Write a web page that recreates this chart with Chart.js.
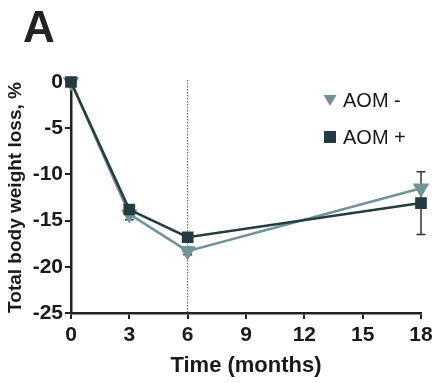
<!DOCTYPE html>
<html>
<head>
<meta charset="utf-8">
<script src="https://cdn.jsdelivr.net/npm/chart.js@4.4.1/dist/chart.umd.min.js"></script>
<style>
  html, body { margin: 0; padding: 0; background: #fff; }
  #wrap { width: 434px; height: 383px; }
</style>
</head>
<body>
<div id="wrap"><canvas id="chart" width="434" height="383"></canvas></div>
<script>
// Data
const months = [0, 3, 6, 18];
const aomMinus = [0, -14.3, -18.3, -11.5];
const aomPlus = [0, -13.8, -16.8, -13.1];
// error bars (SEM), only where visible
const aomMinusErr = [0, 0.6, 0.4, 0];
const aomPlusErr = [0, 0, 0, 3.4];
const xTicks = [0, 3, 6, 9, 12, 15, 18];
const yTicks = [0, -5, -10, -15, -20, -25];
const markerMonth = 6;

const colMinus = "#6e9498";
const colPlus = "#243b3f";
const fontFam = "'Liberation Sans', Arial, Helvetica, sans-serif";

const toPoints = (ys) => months.map((m, i) => ({ x: m, y: ys[i] }));

// dotted line at 6 months, error bars, panel letter, legend
const extrasPlugin = {
  id: "extras",
  beforeDatasetsDraw(chart) {
    const { ctx, chartArea, scales } = chart;
    const x = scales.x.getPixelForValue(markerMonth);
    ctx.save();
    ctx.strokeStyle = "#555";
    ctx.lineWidth = 1;
    ctx.setLineDash([1.5, 1.5]);
    ctx.beginPath();
    ctx.moveTo(x, chartArea.top - 2);
    ctx.lineTo(x, chartArea.bottom);
    ctx.stroke();
    ctx.restore();

    // error bars
    const errs = [aomMinusErr, aomPlusErr];
    chart.data.datasets.forEach((ds, di) => {
      ctx.save();
      ctx.strokeStyle = "#333";
      ctx.lineWidth = 1.5;
      ds.data.forEach((p, i) => {
        const e = errs[di][i];
        if (!e) return;
        const px = scales.x.getPixelForValue(p.x);
        const yTop = scales.y.getPixelForValue(p.y + e);
        const yBot = scales.y.getPixelForValue(p.y - e);
        ctx.beginPath();
        ctx.moveTo(px, yTop); ctx.lineTo(px, yBot);
        ctx.moveTo(px - 4.5, yTop); ctx.lineTo(px + 4.5, yTop);
        ctx.moveTo(px - 4.5, yBot); ctx.lineTo(px + 4.5, yBot);
        ctx.stroke();
      });
      ctx.restore();
    });
  },
  afterDraw(chart) {
    const { ctx } = chart;
    ctx.save();
    ctx.fillStyle = "#222";
    ctx.font = "bold 44px " + fontFam;
    ctx.textBaseline = "alphabetic";
    ctx.fillText("A", 23, 42);

    // legend
    ctx.font = "20px " + fontFam;
    ctx.textBaseline = "middle";
    chart.data.datasets.forEach((ds, i) => {
      const y = 100 + i * 37;
      const cx = 330;
      ctx.fillStyle = ds.pointBackgroundColor;
      ctx.beginPath();
      if (ds.pointStyle === "rect") {
        ctx.rect(cx - 6, y - 6, 12, 12);
      } else {
        ctx.moveTo(cx - 6.5, y - 5);
        ctx.lineTo(cx + 6.5, y - 5);
        ctx.lineTo(cx, y + 6);
        ctx.closePath();
      }
      ctx.fill();
      ctx.fillStyle = "#1a1a1a";
      ctx.fillText(ds.label, 343, y + 1);
    });
    ctx.restore();
  }
};

new Chart(document.getElementById("chart"), {
  type: "line",
  data: {
    datasets: [
      {
        label: "AOM -",
        data: toPoints(aomMinus),
        borderColor: colMinus,
        backgroundColor: colMinus,
        pointBackgroundColor: colMinus,
        pointBorderColor: colMinus,
        pointStyle: "triangle",
        rotation: 180,
        pointRadius: 7,
        borderWidth: 2.5,
        tension: 0,
        clip: false,
        order: 1
      },
      {
        label: "AOM +",
        data: toPoints(aomPlus),
        borderColor: colPlus,
        backgroundColor: colPlus,
        pointBackgroundColor: colPlus,
        pointBorderColor: colPlus,
        pointStyle: "rect",
        pointRadius: 6.5,
        borderWidth: 2.5,
        tension: 0,
        clip: false,
        order: 0
      }
    ]
  },
  options: {
    responsive: false,
    animation: false,
    layout: { padding: { top: 82, right: 13, left: 0, bottom: 0 } },
    plugins: {
      legend: { display: false },
      tooltip: { enabled: false }
    },
    scales: {
      x: {
        type: "linear",
        min: 0,
        max: 18,
        afterBuildTicks: (s) => { s.ticks = xTicks.map(v => ({ value: v })); },
        afterFit: (s) => { s.height = 70; s.paddingRight = 0; s.paddingLeft = 0; },
        grid: { drawOnChartArea: false, drawTicks: true, tickLength: 6, color: "#222", lineWidth: 2 },
        border: { color: "#222", width: 2.5 },
        ticks: {
          color: "#1a1a1a",
          padding: 4,
          maxRotation: 0,
          font: { family: fontFam, size: 21, weight: "bold" }
        },
        title: {
          display: true,
          text: "Time (months)",
          color: "#1a1a1a",
          padding: { top: 9 },
          font: { family: fontFam, size: 22, weight: "bold" }
        }
      },
      y: {
        min: -25,
        max: 0,
        afterBuildTicks: (s) => { s.ticks = yTicks.map(v => ({ value: v })); },
        afterFit: (s) => { s.width = 71; s.paddingTop = 0; s.paddingBottom = 0; },
        grid: { drawOnChartArea: false, drawTicks: true, tickLength: 6, color: "#222", lineWidth: 2 },
        border: { color: "#222", width: 2.5 },
        ticks: {
          color: "#1a1a1a",
          padding: 2,
          font: { family: fontFam, size: 21, weight: "bold" }
        },
        title: {
          display: true,
          text: "Total body weight loss, %",
          color: "#1a1a1a",
          padding: { bottom: 2 },
          font: { family: fontFam, size: 19, weight: "bold" }
        }
      }
    }
  },
  plugins: [extrasPlugin]
});
</script>
</body>
</html>
